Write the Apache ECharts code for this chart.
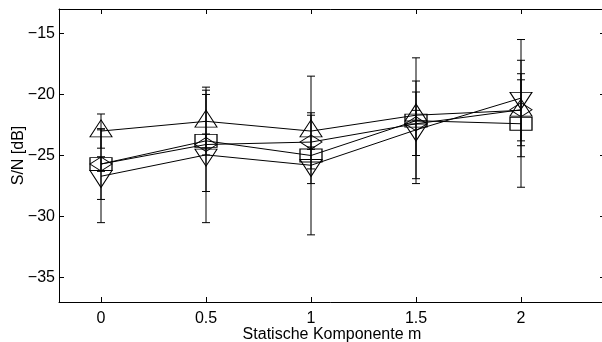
<!DOCTYPE html>
<html>
<head>
<meta charset="utf-8">
<script src="https://cdn.jsdelivr.net/npm/echarts@6/dist/echarts.min.js"></script>
<style>
  html, body { margin: 0; padding: 0; background: #fff; }
  #chart { width: 602px; height: 342px; }
</style>
</head>
<body>
<div id="chart"></div>
<script>
// values
const xValues = [0, 0.5, 1, 1.5, 2];

const triUp = [-23.0, -22.2, -23.0, -21.7, -21.3];
const triUpErr = [1.4, 2.2, 1.5, 0.4, 2.5];

const square = [-25.7, -23.8, -25.0, -22.15, -22.4];
const squareErr = [0.6, 4.15, 6.5, 5.15, 5.2];

const diamond = [-25.7, -24.1, -23.9, -22.4, -21.25];
const diamondErr = [2.9, 0.86, 2.2, 2.6, 2.95];

const triDown = [-26.7, -24.95, -25.8, -22.9, -20.3];
const triDownErr = [3.8, 5.55, 1.5, 4.0, 4.8];

const xName = "Statische Komponente m";
const yName = "S/N [dB]";

const FONT = "'Liberation Sans', Arial, sans-serif";
const FS = 16;

const pts = vals => xValues.map((x, i) => [x, vals[i]]);
const errs = (vals, e) => xValues.map((x, i) => [x, vals[i] - e[i], vals[i] + e[i]]);

const errData = [].concat(
  errs(triUp, triUpErr),
  errs(square, squareErr),
  errs(diamond, diamondErr),
  errs(triDown, triDownErr)
);

function lineSeries(name, vals, symbol, size, extra) {
  return Object.assign({
    name,
    type: "line",
    data: pts(vals),
    symbol,
    symbolSize: size,
    showAllSymbol: true,
    itemStyle: { color: "transparent", borderColor: "#000", borderWidth: 1 },
    lineStyle: { color: "#000", width: 1 },
    emphasis: { disabled: true },
    z: 3
  }, extra || {});
}

function renderErr(params, api) {
  const x = api.value(0);
  const lo = api.coord([x, api.value(1)]);
  const hi = api.coord([x, api.value(2)]);
  const w = 4;
  const style = { stroke: "#000", lineWidth: 1 };
  return {
    type: "group",
    children: [
      { type: "line", shape: { x1: lo[0], y1: lo[1], x2: hi[0], y2: hi[1] }, style },
      { type: "line", shape: { x1: lo[0] - w, y1: lo[1], x2: lo[0] + w, y2: lo[1] }, style },
      { type: "line", shape: { x1: hi[0] - w, y1: hi[1], x2: hi[0] + w, y2: hi[1] }, style }
    ]
  };
}

const axisLine = { show: true, onZero: false, lineStyle: { color: "#000", width: 1 } };
const axisTick = { show: true, inside: true, length: 5, lineStyle: { color: "#000" } };

const chart = echarts.init(document.getElementById("chart"), null, { renderer: "canvas" });
chart.setOption({
  animation: false,
  backgroundColor: "#fff",
  grid: { left: 59, right: -3, top: 9, bottom: 40, containLabel: false, outerBoundsMode: "none" },
  xAxis: [
    {
      type: "value",
      min: -0.2,
      max: 2.4,
      position: "bottom",
      axisLine,
      axisTick,
      splitLine: { show: false },
      axisLabel: {
        color: "#000",
        fontFamily: FONT,
        fontSize: FS,
        margin: 9,
        showMinLabel: false,
        showMaxLabel: false
      },
      name: xName,
      nameLocation: "middle",
      nameGap: 25,
      nameMoveOverlap: false,
      nameTextStyle: { color: "#000", fontFamily: FONT, fontSize: FS }
    },
    {
      type: "value",
      min: -0.2,
      max: 2.4,
      position: "top",
      axisLine,
      axisTick,
      splitLine: { show: false },
      axisLabel: { show: false }
    }
  ],
  yAxis: [
    {
      type: "value",
      min: -37,
      max: -13,
      position: "left",
      axisLine,
      axisTick,
      splitLine: { show: false },
      axisLabel: {
        color: "#000",
        fontFamily: FONT,
        fontSize: FS,
        margin: 4,
        showMinLabel: false,
        showMaxLabel: false,
        formatter: v => String(v).replace("-", "\u2212")
      },
      name: yName,
      nameLocation: "middle",
      nameGap: 32,
      nameMoveOverlap: false,
      nameRotate: 90,
      nameTextStyle: { color: "#000", fontFamily: FONT, fontSize: FS }
    },
    {
      type: "value",
      min: -37,
      max: -13,
      position: "right",
      axisLine,
      axisTick,
      splitLine: { show: false },
      axisLabel: { show: false }
    }
  ],
  series: [
    {
      type: "custom",
      renderItem: renderErr,
      data: errData,
      encode: { x: 0, y: [1, 2] },
      z: 2,
      silent: true
    },
    lineSeries("triUp", triUp, "triangle", [22, 17], { symbolOffset: [0, -2.7] }),
    lineSeries("square", square, "rect", [22, 13]),
    lineSeries("diamond", diamond, "diamond", [22, 14]),
    lineSeries("triDown", triDown, "triangle", [22, 17], { symbolRotate: 180, symbolOffset: [0, 2.7] })
  ]
});
</script>
</body>
</html>
